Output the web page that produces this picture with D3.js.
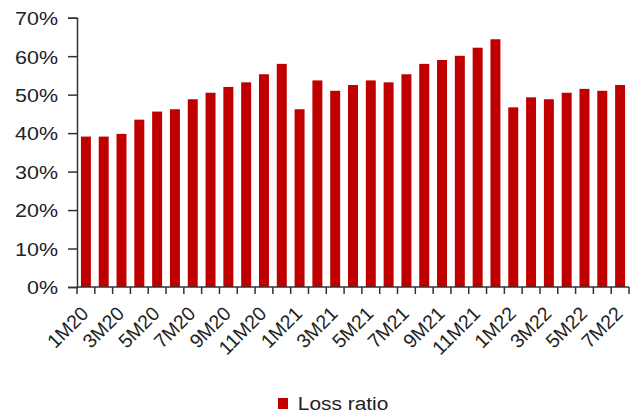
<!DOCTYPE html>
<html>
<head>
<meta charset="utf-8">
<script src="https://cdn.jsdelivr.net/npm/d3@7"></script>
<style>
  body { margin: 0; background: #fff; }
  text { font-family: "Liberation Sans", Arial, sans-serif; fill: #222; }
</style>
</head>
<body>
<script>
const width = 641, height = 417;

// months Jan-20 .. Jul-22
const months = [
  "1M20","2M20","3M20","4M20","5M20","6M20","7M20","8M20","9M20","10M20","11M20","12M20",
  "1M21","2M21","3M21","4M21","5M21","6M21","7M21","8M21","9M21","10M21","11M21","12M21",
  "1M22","2M22","3M22","4M22","5M22","6M22","7M22"
];
// loss ratio, %
const lossRatio = [
  39.1, 39.1, 39.8, 43.5, 45.6, 46.2, 48.8, 50.5, 52.0, 53.2, 55.3, 58.0,
  46.2, 53.7, 51.0, 52.5, 53.7, 53.2, 55.3, 58.0, 59.0, 60.1, 62.2, 64.4,
  46.7, 49.3, 48.8, 50.5, 51.5, 51.0, 52.5
];
const yTicks = [0, 10, 20, 30, 40, 50, 60, 70];

const margin = {left: 77, right: 12, top: 17.7, bottom: 130};

const svg = d3.select("body").append("svg")
    .attr("width", width)
    .attr("height", height);

const x = d3.scaleBand()
    .domain(months)
    .range([margin.left, width - margin.right])
    .paddingInner(0.44)
    .paddingOuter(0.22);

const y = d3.scaleLinear()
    .domain([0, 70])
    .range([height - margin.bottom, margin.top]);

// bars
svg.append("g").selectAll("rect")
    .data(lossRatio)
    .enter().append("rect")
    .attr("x", (d, i) => x(months[i]))
    .attr("y", d => y(d))
    .attr("width", x.bandwidth())
    .attr("height", d => y(0) - y(d))
    .attr("fill", "#c00000");

// y axis
const yAxis = svg.append("g")
    .attr("transform", `translate(${margin.left},0)`)
    .call(d3.axisLeft(y).tickValues(yTicks).tickSize(9).tickFormat(d => d + "%"));
yAxis.select(".domain").attr("stroke", "#333").attr("stroke-width", 1.5);
yAxis.selectAll(".tick line").attr("stroke", "#333").attr("stroke-width", 1.5);
yAxis.selectAll(".tick text")
    .attr("font-size", 19)
    .attr("x", 0)
    .attr("transform", "translate(-19,0) scale(1.13,1)")
    .attr("dy", "0.36em");

// x axis: tick on each category boundary
const boundaries = d3.range(months.length + 1).map(i => margin.left + i * (width - margin.right - margin.left) / months.length);
const xg = svg.append("g");
xg.append("line")
    .attr("x1", margin.left).attr("x2", width - margin.right)
    .attr("y1", y(0)).attr("y2", y(0))
    .attr("stroke", "#333").attr("stroke-width", 1.5);
xg.selectAll(".bt")
    .data(boundaries)
    .enter().append("line")
    .attr("x1", d => d).attr("x2", d => d)
    .attr("y1", y(0)).attr("y2", y(0) + 7)
    .attr("stroke", "#333").attr("stroke-width", 1.5);

// labels every other month
xg.selectAll(".lbl")
    .data(months.filter((m, i) => i % 2 === 0))
    .enter().append("text")
    .attr("font-size", 19.5)
    .attr("text-anchor", "end")
    .attr("dy", "0.35em")
    .attr("transform", d => `translate(${x(d) + x.bandwidth() / 2 - 1},${y(0) + 23}) rotate(-45)`)
    .text(d => d);

// legend
const lg = svg.append("g").attr("transform", "translate(278,398)");
lg.append("rect").attr("width", 10).attr("height", 11).attr("fill", "#c00000");
lg.append("text")
    .attr("x", 18).attr("y", 12)
    .attr("font-size", 19)
    .attr("transform", "scale(1.1,1)")
    .text("Loss ratio");
</script>
</body>
</html>
